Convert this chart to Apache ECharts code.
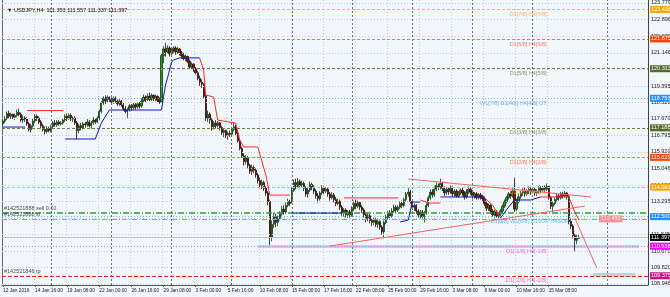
<!DOCTYPE html>
<html><head><meta charset="utf-8">
<script src="https://cdn.jsdelivr.net/npm/echarts@6/dist/echarts.min.js"></script>
<style>html,body{margin:0;padding:0;background:#F2F7FC;}#c{width:670px;height:297px;}</style>
</head><body><div id="c"></div><script>
// ---- DATA ----
const titleText = '\u25BC USDJPY,H4  111.353 111.557 111.337 111.397';
// [open, close, low, high] per H4 bar, starting 12 Jan 2016 00:00
const candles = [
[117.40,117.55,117.30,117.65],[117.55,117.70,117.45,117.80],[117.70,117.95,117.60,118.05],[117.95,117.80,117.70,118.10],[117.80,117.90,117.65,118.00],[117.90,117.75,117.65,117.95],
[117.75,117.85,117.60,117.95],[117.85,118.00,117.75,118.15],[118.00,117.90,117.80,118.20],[117.90,117.60,117.50,118.00],[117.60,117.70,117.45,117.85],[117.70,117.65,117.50,117.80],
[117.65,117.40,117.30,117.75],[117.40,117.10,117.00,117.50],[117.10,117.30,116.95,117.40],[117.30,117.55,117.20,117.65],[117.55,117.80,117.45,117.90],[117.80,117.70,117.55,117.90],
[117.70,117.50,117.40,117.80],[117.50,117.30,117.15,117.60],[117.30,117.10,117.00,117.40],[117.10,117.00,116.85,117.25],[117.00,117.15,116.90,117.30],[117.15,117.05,116.95,117.25],
[117.05,117.25,116.95,117.35],[117.25,117.45,117.15,117.55],[117.45,117.35,117.25,117.60],[117.35,117.50,117.25,117.60],[117.50,117.40,117.30,117.60],[117.40,117.45,117.30,117.55],
[117.45,117.60,117.35,117.70],[117.60,117.80,117.50,117.90],[117.80,117.70,117.55,117.95],[117.70,117.85,117.60,117.95],[117.85,117.65,117.55,117.95],[117.65,117.70,117.50,117.80],
[117.70,117.45,117.35,117.80],[117.45,117.05,116.60,117.55],[117.05,117.30,116.90,117.40],[117.30,117.20,117.05,117.45],[117.20,117.40,117.10,117.50],[117.40,117.35,117.20,117.50],
[117.35,117.50,117.25,117.65],[117.50,117.30,117.20,117.60],[117.30,117.45,117.15,117.55],[117.45,117.60,117.35,117.75],[117.60,117.50,117.40,117.70],[117.50,117.70,117.45,117.80],
[117.70,118.05,117.60,118.15],[118.05,118.50,117.95,118.60],[118.50,118.75,118.40,118.85],[118.75,118.60,118.45,118.90],[118.60,118.80,118.50,118.90],[118.80,118.70,118.55,118.85],
[118.70,118.55,118.45,118.80],[118.55,118.75,118.45,118.85],[118.75,118.60,118.50,118.85],[118.60,118.45,118.35,118.70],[118.45,118.60,118.35,118.70],[118.60,118.40,118.30,118.65],
[118.40,118.20,118.10,118.50],[118.20,118.05,117.95,118.35],[118.05,118.15,117.70,118.25],[118.15,118.35,118.05,118.45],[118.35,118.25,118.10,118.45],[118.25,118.40,118.15,118.50],
[118.40,118.30,118.15,118.50],[118.30,118.45,118.20,118.55],[118.45,118.35,118.20,118.55],[118.35,118.60,118.25,118.75],[118.60,118.80,118.50,118.95],[118.80,118.70,118.55,118.90],
[118.70,118.85,118.60,119.00],[118.85,118.70,118.60,119.05],[118.70,118.90,118.60,119.00],[118.90,118.75,118.60,118.95],[118.75,118.85,118.60,118.95],[118.85,118.65,118.55,118.90],
[118.65,118.55,118.45,118.80],[118.55,121.00,118.50,121.10],[121.00,121.35,120.60,121.50],[121.35,121.20,120.95,121.68],[121.20,121.40,121.10,121.55],[121.40,121.10,120.95,121.50],
[121.10,121.30,121.00,121.45],[121.30,121.40,121.15,121.50],[121.40,121.20,121.05,121.50],[121.20,121.35,121.10,121.45],[121.35,121.15,121.00,121.40],[121.15,121.00,120.85,121.25],
[121.00,120.85,120.75,121.15],[120.85,120.95,120.70,121.05],[120.95,120.70,120.60,121.00],[120.70,120.40,120.30,120.80],[120.40,120.55,120.25,120.65],[120.55,120.30,120.15,120.60],
[120.30,120.10,120.00,120.40],[120.10,119.80,119.70,120.20],[119.80,119.60,119.40,119.95],[119.60,119.50,119.30,119.75],[119.50,118.85,118.75,119.55],[118.85,117.70,117.55,118.95],
[117.70,117.90,117.50,118.10],[117.90,117.60,117.40,118.00],[117.60,117.25,117.05,117.70],[117.25,117.45,117.10,117.55],[117.45,117.30,117.15,117.60],[117.30,117.45,117.20,117.55],
[117.45,117.20,117.05,117.50],[117.20,116.95,116.80,117.30],[116.95,117.05,116.70,117.15],[117.05,116.80,116.65,117.10],[116.80,116.90,116.55,117.00],[116.90,116.85,116.70,117.05],
[116.85,117.10,116.75,117.25],[117.10,117.25,117.00,117.45],[117.25,116.90,116.80,117.35],[116.90,116.50,116.40,117.00],[116.50,116.10,116.00,116.60],[116.10,115.70,115.60,116.20],
[115.70,115.40,115.20,115.85],[115.40,115.60,115.25,115.75],[115.60,115.20,115.05,115.70],[115.20,114.90,114.75,115.30],[114.90,115.10,114.70,115.25],[115.10,114.95,114.80,115.20],
[114.95,114.70,114.55,115.05],[114.70,114.40,114.25,114.80],[114.40,114.15,114.00,114.55],[114.15,114.30,113.95,114.45],[114.30,114.00,113.85,114.40],[114.00,113.75,113.60,114.10],
[113.75,113.30,113.10,113.85],[113.30,111.40,111.00,113.40],[111.40,112.10,111.20,112.30],[112.10,112.50,111.90,112.70],[112.50,112.20,111.95,112.65],[112.20,112.40,112.00,112.55],
[112.40,112.65,112.30,112.80],[112.65,112.90,112.55,113.05],[112.90,112.75,112.60,113.10],[112.75,113.10,112.65,113.25],[113.10,113.30,113.00,113.45],[113.30,113.20,113.05,113.40],
[113.30,113.90,113.20,114.05],[113.90,114.30,113.80,114.45],[114.30,114.10,113.95,114.50],[114.10,114.35,114.00,114.55],[114.35,114.15,114.00,114.45],[114.15,114.25,114.05,114.40],
[114.25,114.00,113.85,114.35],[114.00,113.70,113.55,114.10],[113.70,113.90,113.50,114.05],[113.90,114.20,113.80,114.35],[114.20,114.05,113.90,114.30],[114.05,113.85,113.70,114.15],
[113.85,113.60,113.45,113.95],[113.60,113.45,113.25,113.75],[113.45,113.75,113.35,113.85],[113.75,114.00,113.65,114.15],[114.00,113.85,113.70,114.10],[113.85,113.95,113.75,114.05],
[113.95,113.70,113.55,114.05],[113.70,113.50,113.35,113.80],[113.50,113.65,113.40,113.80],[113.65,113.40,113.25,113.75],[113.40,113.20,113.05,113.55],[113.20,113.30,113.10,113.45],
[113.30,113.00,112.85,113.40],[113.00,112.70,112.55,113.10],[112.70,112.85,112.50,112.95],[112.85,112.60,112.45,112.95],[112.60,112.75,112.40,112.85],[112.75,112.60,112.45,112.85],
[112.60,112.90,112.50,113.05],[112.90,113.20,112.80,113.35],[113.20,113.05,112.90,113.40],[113.05,113.25,112.95,113.35],[113.25,113.00,112.85,113.30],[113.00,112.85,112.70,113.10],
[112.85,112.60,112.45,112.95],[112.60,112.40,112.20,112.70],[112.40,112.55,112.25,112.70],[112.55,112.30,112.15,112.65],[112.30,112.20,112.00,112.40],[112.20,112.35,112.05,112.45],
[112.35,112.10,111.95,112.45],[112.10,112.25,111.90,112.35],[112.25,111.95,111.80,112.30],[111.95,111.70,111.55,112.05],[111.70,112.20,111.36,112.30],[112.20,112.45,112.10,112.60],
[112.45,112.70,112.35,112.80],[112.70,112.55,112.40,112.85],[112.55,112.80,112.45,112.95],[112.80,113.00,112.70,113.15],[113.00,112.85,112.70,113.10],[112.85,113.00,112.75,113.10],
[113.00,113.20,112.90,113.30],[113.20,113.10,112.95,113.35],[113.10,113.40,113.00,113.50],[113.40,113.70,113.30,113.80],[113.70,113.80,113.55,114.00],[113.80,113.30,113.20,113.90],
[113.30,113.00,112.85,113.40],[113.00,113.10,112.80,113.20],[113.10,112.80,112.65,113.15],[112.80,112.60,112.45,112.90],[112.60,112.75,112.40,112.85],[112.75,112.50,112.35,112.85],
[112.50,112.70,112.20,112.80],[112.70,113.10,112.60,113.20],[113.10,113.50,113.00,113.60],[113.50,113.80,113.40,113.95],[113.80,113.65,113.50,113.95],[113.65,113.95,113.55,114.10],
[113.95,114.15,113.85,114.30],[114.15,114.05,113.90,114.25],[114.05,114.25,113.95,114.50],[114.25,114.00,113.85,114.35],[114.00,113.75,113.60,114.10],[113.75,113.95,113.65,114.05],
[113.95,113.80,113.65,114.05],[113.80,114.00,113.70,114.15],[114.00,113.70,113.55,114.10],[113.70,113.85,113.55,113.95],[113.85,113.60,113.50,113.95],[113.60,113.75,113.50,113.85],
[113.75,113.90,113.65,114.00],[113.90,113.75,113.60,114.05],[113.75,113.55,113.40,113.85],[113.55,113.80,113.45,113.95],[113.80,113.95,113.70,114.10],[113.95,113.80,113.65,114.05],
[113.80,113.60,113.45,113.90],[113.60,113.70,113.45,113.80],[113.70,113.50,113.40,113.80],[113.50,113.65,113.40,113.75],[113.65,113.55,113.40,113.75],[113.55,113.45,113.30,113.65],
[113.45,113.20,113.05,113.55],[113.20,112.95,112.80,113.30],[112.95,113.10,112.80,113.20],[113.10,112.80,112.65,113.15],[112.80,112.60,112.50,112.90],[112.60,112.75,112.45,112.85],
[112.75,112.55,112.45,112.85],[112.55,112.65,112.42,112.75],[112.65,112.80,112.40,112.90],[112.80,113.05,112.70,113.15],[113.05,113.30,112.95,113.40],[113.30,113.50,113.20,113.60],
[113.50,113.70,113.40,113.80],[113.70,113.60,113.45,113.85],[113.60,113.85,113.50,114.00],[113.85,112.90,112.75,114.55],[112.90,113.30,112.80,113.45],[113.30,113.55,113.20,113.70],
[113.55,113.75,113.45,113.85],[113.75,113.90,113.60,114.00],[113.90,113.70,113.55,114.05],[113.70,113.85,113.60,113.95],[113.85,113.95,113.70,114.10],[113.95,113.80,113.65,114.05],
[113.80,113.95,113.70,114.05],[113.95,113.75,113.60,114.05],[113.75,113.85,113.60,113.95],[113.85,114.00,113.70,114.10],[114.00,113.90,113.75,114.10],[113.90,114.05,113.80,114.15],
[114.05,113.95,113.80,114.15],[113.95,114.10,113.85,114.25],[114.10,113.50,113.40,114.15],[113.50,113.05,112.90,113.60],[113.05,113.20,112.75,113.30],[113.20,113.40,113.10,113.50],
[113.40,113.60,113.30,113.70],[113.60,113.50,113.35,113.70],[113.50,113.70,113.40,113.80],[113.70,113.60,113.45,113.80],[113.60,113.75,113.50,113.85],[113.75,113.55,113.40,113.80],
[113.55,112.25,112.10,113.65],[112.25,112.00,111.85,112.40],[112.00,111.50,111.35,112.10],[111.50,111.25,110.67,111.60],[111.25,111.35,111.05,111.55],[111.353,111.397,111.337,111.557]
];
const totalSlots = 322;
const xTickLabels = ['12 Jan 2016','14 Jan 16:00','19 Jan 08:00','22 Jan 00:00','26 Jan 16:00','29 Jan 08:00','3 Feb 00:00','5 Feb 16:00','10 Feb 08:00','15 Feb 00:00','17 Feb 16:00','22 Feb 08:00','25 Feb 00:00','29 Feb 16:00','3 Mar 08:00','8 Mar 00:00','10 Mar 16:00','15 Mar 08:00'];
const weekStarts = [24,54,84,114,144,174,204,234,264,301];
const priceTicks = ['108.946','109.820','110.670','111.545','112.420','113.295','114.170','115.046','115.920','116.795','117.670','118.520','119.395','120.270','121.146','122.020','122.896','123.779'];
const murreyValues = [123.438,121.875,120.313,118.750,117.188,115.625,114.063,112.500,110.938,109.375];
const murreyNames = ['D1[7/8] H4[7/8]','D1[6/8] H4[6/8]','D1[5/8] H4[5/8]','W1[7/8] D1[4/8] H4[4/8] OT','D1[3/8] H4[3/8]','D1[2/8] H4[2/8]','D1[1/8] H4[1/8]','D1[0/8] W1[6/8] D1SUP H4SUP','D1[-1/8] H4[-1/8]','D1[-2/8] H4[-2/8]'];
const bidPrice = 111.397;
const orderEntry = 112.72, orderSL = 112.38, orderTP = 109.375;
const orderLabels = ['#142521888 sell 0.01','#142521888 sl','#142521846 tp'];
const slBoxText = '112.450';
// stepped trend indicator [barIndex, price]
const blueLine = [[0,117.23],[11,117.23],null,[31,116.60],[46,116.60],[49,117.44],[53,118.13],[79,118.13],[80,118.82],[81,119.45],[82,119.82],[84,120.66],[85,120.77],[88,120.88],[98,120.88],null,
 [144,112.69],[169,112.69],null,[198,112.22],[202,112.32],[204,113.27],[208,113.27],null,[218,113.54],[240,113.54],null,[248,112.43],[252,113.01],[255,113.38],[263,113.38],[268,113.54]];
const redLine = [[12,118.10],[30,118.10],null,[98,120.88],[100,120.24],[101,118.92],[105,118.82],[107,117.60],[116,117.44],[118,116.55],[120,116.18],[127,116.18],[131,114.70],[133,113.64],[143,113.64],null,
 [170,113.49],[197,113.49],null,[208,113.38],[212,113.22],[218,113.22],null,[240,113.49],[244,113.12],[248,112.43],null,[268,113.54],[282,113.54],[285,112.75],[287,112.32]];
const trendTop = [[202,114.49],[293,113.54]];
const trendLow = [[163,110.95],[290,113.06]];
const projLine = [[285,112.43],[296,109.79]];
const zone1 = [[127,111.00],[317,110.85]];
const zone2 = [[294,109.52],[315,109.32]];

// ---- STYLES ----
const FONT = 'Liberation Sans, Arial, sans-serif';
const murreyColors = ['#FFA500','#FF4500','#556B2F','#1E90FF','#556B2F','#FF4500','#FFA500','#1E90FF','#FF00FF','#C71585'];
const murreyLineColors = ['#FFB040','#FF7050','#6B7F45','#70B4FF','#6B7F45','#FF7050','#FFB040','#70B4FF','#FF60FF','#FF2020'];
const murreyTextColors = ['#FFA040','#FF6040','#6B7F45','#50A0FF','#6B7F45','#FF6040','#FFA040','#50A0FF','#FF40FF','#E060A0'];
const murreyTypes = [[3,2],[3,2],[3,2],[1,2],[3,2],[3,2],[3,2],[1,2],[1,2],[4,2]];
const nameX = [271,271,271,271,271,271,271,282,271,271];

const cats = [];
for (let i = 0; i < totalSlots; i++) cats.push('b' + i);
const showTick = (i) => i % 16 === 0 && i / 16 < xTickLabels.length;

const chart = echarts.init(document.getElementById('c'));
const tickLines = priceTicks.map(t => ({
  yAxis: parseFloat(t),
  lineStyle: {color: '#C8CCD0', type: [1, 2], width: 1},
  label: {show: true, position: 'end', distance: 3, formatter: t, fontSize: 5.5, color: '#222', fontFamily: FONT}
}));
const levelLines = murreyValues.map((v, i) => ({
  yAxis: v,
  lineStyle: {color: murreyLineColors[i], type: murreyTypes[i], width: 1},
  label: {show: true, position: 'end', distance: 2, formatter: v.toFixed(3), fontSize: 5.5, color: '#fff',
    backgroundColor: murreyColors[i], padding: [1, 1, 0, 1], fontFamily: FONT}
}));
const orderLines = [
  {yAxis: orderEntry, lineStyle: {color: '#33A033', type: [6, 2, 1, 2], width: 1.6}, label: {show: false}},
  {yAxis: orderSL, lineStyle: {color: '#FF7F50', type: [5, 2, 1, 2], width: 1}, label: {show: false}},
  {yAxis: bidPrice, lineStyle: {color: '#C0C0C0', type: 'solid', width: 1},
    label: {show: true, position: 'end', distance: 2, formatter: bidPrice.toFixed(3), fontSize: 5.5, color: '#fff',
      backgroundColor: '#000', padding: [1, 1, 0, 1], fontFamily: FONT}}
];
const sepLines = weekStarts.map(w => ({xAxis: w, lineStyle: {color: '#707070', type: [2, 2], width: 1}, label: {show: false}}));

const nameLabels = murreyValues.map((v, i) => ({
  value: [nameX[i], v],
  label: {show: true, formatter: murreyNames[i], color: murreyTextColors[i], fontSize: 5.5, fontFamily: FONT,
    position: [0, 2], align: 'right', verticalAlign: 'top'}
}));
const orderTextPts = [
  {value: [0, orderEntry], label: {show: true, formatter: orderLabels[0], position: [1, -1], align: 'left', verticalAlign: 'bottom', color: '#222', fontSize: 5.5, fontFamily: FONT}},
  {value: [0, orderSL], label: {show: true, formatter: orderLabels[1], position: [1, -1], align: 'left', verticalAlign: 'bottom', color: '#222', fontSize: 5.5, fontFamily: FONT}},
  {value: [0, orderTP], label: {show: true, formatter: orderLabels[2], position: [1, -1], align: 'left', verticalAlign: 'bottom', color: '#222', fontSize: 5.5, fontFamily: FONT}},
  {value: [303, orderSL], label: {show: true, formatter: slBoxText, position: [0, 0], align: 'center', verticalAlign: 'middle', color: '#fff', backgroundColor: '#F08080', padding: [1, 2, 0, 2], fontSize: 5.5, fontFamily: FONT}}
];

chart.setOption({
  animation: false,
  backgroundColor: '#F2F7FC',
  title: {text: titleText, left: 2, top: 2, textStyle: {fontSize: 5.5, fontWeight: 'normal', color: '#111', fontFamily: FONT}},
  grid: {left: 1, right: 22, top: 0, bottom: 12, containLabel: false},
  xAxis: {
    type: 'category', data: cats, boundaryGap: true,
    axisLine: {show: true, lineStyle: {color: '#555', width: 1}},
    axisTick: {show: true, interval: (i) => showTick(i), length: 2, alignWithLabel: true, lineStyle: {color: '#555'}},
    axisLabel: {show: true, interval: (i) => showTick(i), formatter: (v, i) => xTickLabels[i / 16] || '', align: 'left',
      fontSize: 4.8, color: '#222', margin: 3, fontFamily: FONT, hideOverlap: false},
    splitLine: {show: true, interval: (i) => showTick(i), lineStyle: {color: '#C8CCD0', type: [1, 2]}}
  },
  yAxis: [{
    type: 'value', position: 'right', min: 108.893, max: 123.937, scale: true,
    axisLine: {show: true, lineStyle: {color: '#444'}}, axisTick: {show: false}, axisLabel: {show: false}, splitLine: {show: false}
  }, {
    type: 'value', position: 'left', min: 108.893, max: 123.937,
    axisLine: {show: true, lineStyle: {color: '#666'}}, axisTick: {show: false}, axisLabel: {show: false}, splitLine: {show: false}
  }],
  series: [
    {type: 'line', data: [], silent: true, markLine: {silent: true, symbol: ['none', 'none'], animation: false, data: tickLines.concat(sepLines)}, z: 1},
    {type: 'line', data: [], silent: true, markLine: {silent: true, symbol: ['none', 'none'], animation: false, data: levelLines.concat(orderLines)}, z: 3},
    {type: 'candlestick', data: candles, barWidth: 1.7, z: 4,
      itemStyle: {color: '#1E9E1E', color0: '#9A1010', borderColor: '#0E3E0E', borderColor0: '#2A0505', borderWidth: 0.8},
      markArea: {silent: true, itemStyle: {color: 'rgba(150,205,230,0.75)'}, data: [
        [{xAxis: zone1[0][0], yAxis: zone1[0][1]}, {xAxis: zone1[1][0], yAxis: zone1[1][1]}],
        [{xAxis: zone2[0][0], yAxis: zone2[0][1]}, {xAxis: zone2[1][0], yAxis: zone2[1][1]}]
      ]}
    },
    {type: 'line', data: blueLine.map(p => p || '-'), symbol: 'none', connectNulls: false, lineStyle: {color: '#1515CC', width: 1}, z: 5},
    {type: 'line', data: redLine.map(p => p || '-'), symbol: 'none', connectNulls: false, lineStyle: {color: '#FF2A2A', width: 1}, z: 5},
    {type: 'line', data: trendTop, symbol: 'none', lineStyle: {color: '#FF6060', width: 1}, z: 5},
    {type: 'line', data: trendLow, symbol: 'none', lineStyle: {color: '#FF6060', width: 1}, z: 5},
    {type: 'line', data: projLine, symbol: 'none', lineStyle: {color: '#FF6060', width: 1}, z: 5},
    {type: 'scatter', data: nameLabels.concat(orderTextPts), symbolSize: 0.1, silent: true, z: 6}
  ]
});
</script></body></html>
